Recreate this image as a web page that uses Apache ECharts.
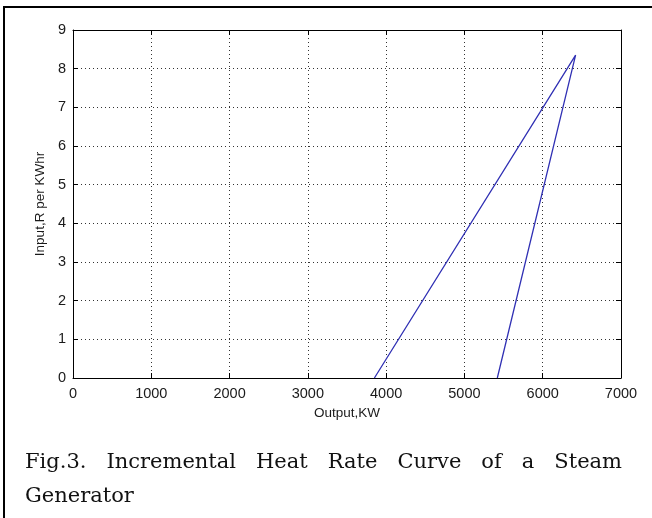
<!DOCTYPE html>
<html>
<head>
<meta charset="utf-8">
<script src="https://cdn.jsdelivr.net/npm/echarts@6/dist/echarts.min.js"></script>
<style>
html,body{margin:0;padding:0;background:#fff;}
#chart{width:652px;height:518px;}
</style>
</head>
<body>
<div id="chart"></div>
<script>
// ---- data ----
const outputKW = [3850, 6420, 5420];
const inputR = [0, 8.35, 0];
const xAxisName = 'Output,KW';
const yAxisName = 'Input,R per KWhr';
const xMin = 0, xMax = 7000, xStep = 1000;
const yMin = 0, yMax = 9, yStep = 1;
const captionLine1 = 'Fig.3. Incremental Heat Rate Curve of a Steam';
const captionLine2 = 'Generator';

// ---- layout ----
const GRID = {left: 73, right: 31, top: 30, bottom: 140};
const CAP_FONT = '21px "DejaVu Serif"';
const CAP_LEFT = 25, CAP_RIGHT = 622;
const CAP_Y1 = 463, CAP_Y2 = 497;

const chart = echarts.init(document.getElementById('chart'), null, {renderer: 'canvas'});

const tickFont = {fontFamily: 'Liberation Sans, Arial, sans-serif', fontSize: 14.5, color: '#1a1a1a'};
const nameFont = {fontFamily: 'Liberation Sans, Arial, sans-serif', fontSize: 13.5, color: '#1a1a1a'};
const gridLine = {show: true, lineStyle: {color: '#333', width: 1, type: [1, 3]}};
const plain = v => String(v);

function mainX() {
  return {
    type: 'value', min: xMin, max: xMax, interval: xStep, position: 'bottom',
    axisLine: {show: true, onZero: false, lineStyle: {color: '#000', width: 1}},
    axisTick: {show: true, inside: true, length: 5, lineStyle: {color: '#000'}},
    axisLabel: Object.assign({margin: 8, formatter: plain}, tickFont),
    splitLine: gridLine,
    name: xAxisName, nameLocation: 'middle', nameGap: 24, nameTextStyle: nameFont
  };
}
function mirrorX() {
  return {
    type: 'value', min: xMin, max: xMax, interval: xStep, position: 'top',
    axisLine: {show: true, onZero: false, lineStyle: {color: '#000', width: 1}},
    axisTick: {show: true, inside: true, length: 5, lineStyle: {color: '#000'}},
    axisLabel: {show: false}, splitLine: {show: false}
  };
}
function mainY() {
  return {
    type: 'value', min: yMin, max: yMax, interval: yStep, position: 'left',
    axisLine: {show: true, onZero: false, lineStyle: {color: '#000', width: 1}},
    axisTick: {show: true, inside: true, length: 5, lineStyle: {color: '#000'}},
    axisLabel: Object.assign({margin: 7, formatter: plain}, tickFont),
    splitLine: gridLine,
    name: yAxisName, nameLocation: 'middle', nameGap: 24, nameTextStyle: nameFont
  };
}
function mirrorY() {
  return {
    type: 'value', min: yMin, max: yMax, interval: yStep, position: 'right',
    axisLine: {show: true, onZero: false, lineStyle: {color: '#000', width: 1}},
    axisTick: {show: true, inside: true, length: 5, lineStyle: {color: '#000'}},
    axisLabel: {show: false}, splitLine: {show: false}
  };
}

// justified caption line
const mctx = document.createElement('canvas').getContext('2d');
mctx.font = CAP_FONT;
function justifiedWords(text, y) {
  const words = text.split(' ');
  const widths = words.map(w => mctx.measureText(w).width);
  const total = widths.reduce((a, b) => a + b, 0);
  const gap = (CAP_RIGHT - CAP_LEFT - total) / (words.length - 1);
  let x = CAP_LEFT;
  return words.map((w, i) => {
    const el = {type: 'text', x: x, y: y,
      style: {text: w, font: CAP_FONT, fill: '#111', textAlign: 'left', textVerticalAlign: 'middle'}};
    x += widths[i] + gap;
    return el;
  });
}

const graphics = [
  {type: 'rect', shape: {x: 4, y: 7, width: 800, height: 700}, style: {fill: 'none', stroke: '#000', lineWidth: 2}, z: 10}
].concat(justifiedWords(captionLine1, CAP_Y1)).concat([
  {type: 'text', x: CAP_LEFT, y: CAP_Y2, style: {text: captionLine2, font: CAP_FONT, fill: '#111', textAlign: 'left', textVerticalAlign: 'middle'}}
]);

chart.setOption({
  animation: false,
  backgroundColor: '#fff',
  grid: GRID,
  xAxis: [mainX(), mirrorX()],
  yAxis: [mainY(), mirrorY()],
  series: [{
    type: 'line',
    xAxisIndex: 0, yAxisIndex: 0,
    data: outputKW.map((x, i) => [x, inputR[i]]),
    symbol: 'none',
    lineStyle: {color: '#3030b4', width: 1.3}
  }],
  graphic: graphics
});
</script>
</body>
</html>
